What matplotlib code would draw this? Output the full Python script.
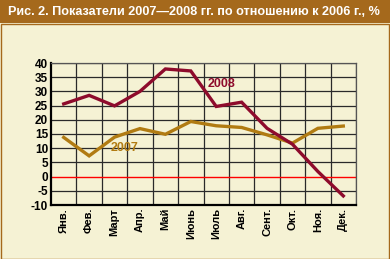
import matplotlib
matplotlib.use("Agg")
import matplotlib.pyplot as plt
from matplotlib.patches import Rectangle

months = ["Янв.", "Фев.", "Март", "Апр.", "Май", "Июнь", "Июль", "Авг.", "Сент.", "Окт.", "Ноя.", "Дек."]
values_2008 = [25.6, 28.6, 24.9, 30.0, 37.9, 37.2, 24.7, 26.2, 17.0, 11.4, 1.8, -6.8]
values_2007 = [13.8, 7.3, 13.9, 16.9, 14.9, 19.4, 17.9, 17.3, 14.7, 11.8, 17.0, 17.8]
y_ticks = [40, 35, 30, 25, 20, 15, 10, 5, 0, -5, -10]
title = "Рис. 2. Показатели 2007\u20142008 гг. по отношению к 2006 г., %"

plt.rcParams['font.family'] = ['Liberation Sans', 'DejaVu Sans']

bg = "#F5F2D4"
band = "#A5691C"
c2008 = "#8E0B2C"
c2007 = "#B17B12"

fig = plt.figure(figsize=(3.9, 2.59), dpi=100)
fig.patch.set_facecolor(bg)
fig.patches.append(Rectangle((0, 1 - 23/259), 1, 23/259, transform=fig.transFigure,
                             facecolor=band, edgecolor='none', zorder=0))
fig.patches.append(Rectangle((0.5/390, 0.5/259), 1 - 1.5/390, 1 - 24/259, transform=fig.transFigure,
                             facecolor='none', edgecolor=band, lw=1.0, zorder=1))
t = fig.text(8/390, 1 - 12/259, title, color='white', fontsize=11, fontweight='bold',
             ha='left', va='center')
renderer = fig.canvas.get_renderer()
w = t.get_window_extent(renderer).width
t.set_fontsize(11 * 370 / w)

ax = fig.add_axes([51/390, 1 - 205/259, (356 - 51)/390, (205 - 63)/259])
ax.set_facecolor(bg)
x = list(range(len(months)))
ax.set_xlim(-0.5, len(months) - 0.5)
ax.set_ylim(-10, 40)

for v in y_ticks:
    if v not in (0, -10):
        ax.axhline(v, color='#2a2a2a', lw=0.9, zorder=1)
for i in range(len(months)):
    ax.axvline(i + 0.5, color='#2a2a2a', lw=0.9, zorder=1)
ax.axhline(0, color='#FF0000', lw=1.0, zorder=2)

ax.plot(x, values_2007, color=c2007, lw=2.4, zorder=3, solid_joinstyle='miter')
ax.plot(x, values_2008, color=c2008, lw=2.4, zorder=4, solid_joinstyle='miter')

ax.text(6.22, 32.6, "2008", color=c2008, fontsize=9, fontweight='bold', ha='center', va='center')
ax.text(2.41, 10.2, "2007", color=c2007, fontsize=9, fontweight='bold', ha='center', va='center')

ax.set_yticks(y_ticks)
ax.set_yticklabels([str(v) for v in y_ticks], fontsize=8.5, fontweight='bold')
ax.set_xticks(x)
ax.set_xticklabels(months, rotation=90, fontsize=8, fontweight='bold')
ax.tick_params(length=0, pad=2)
for s in ['top', 'right']:
    ax.spines[s].set_color('#555555')
    ax.spines[s].set_linewidth(0.9)
for s in ['left', 'bottom']:
    ax.spines[s].set_color('black')
    ax.spines[s].set_linewidth(1.6)

fig.savefig("out.png", dpi=100, facecolor=bg)
